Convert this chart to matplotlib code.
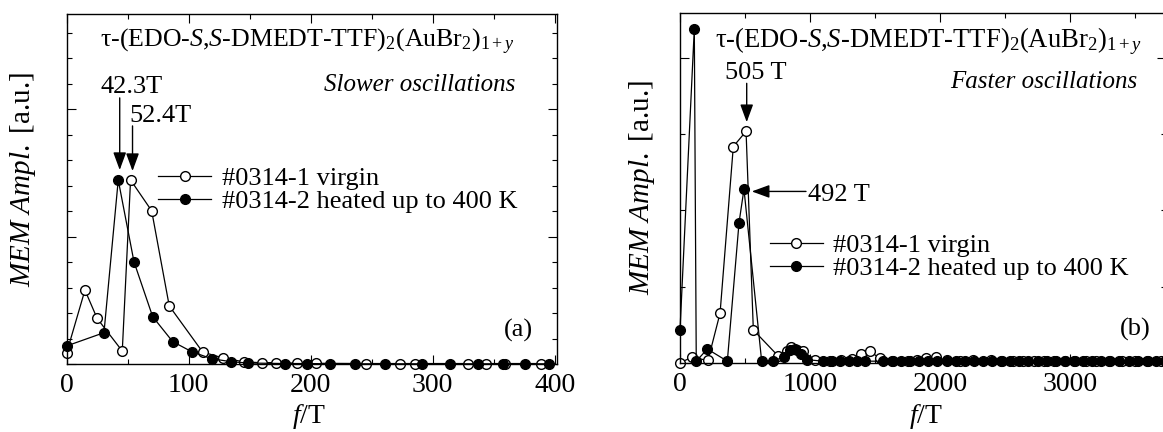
import numpy as np
import matplotlib.pyplot as plt
from matplotlib.ticker import MultipleLocator

plt.rcParams['font.family'] = ['Liberation Serif', 'DejaVu Serif']
plt.rcParams['mathtext.fontset'] = 'custom'
plt.rcParams['mathtext.rm'] = 'Liberation Serif'
plt.rcParams['mathtext.it'] = 'Liberation Serif:italic'
plt.rcParams['mathtext.bf'] = 'Liberation Serif:bold'

# (a) slower oscillations, f in T, amplitude in arbitrary units
f_open_a = [0, 15, 25, 45.6, 52.4, 69.7, 84.1, 111.5, 128, 145, 160, 172, 189, 204,
            245, 273, 285.5, 329, 344, 359, 389]
y_open_a = [0.45, 2.91, 1.80, 0.52, 7.23, 6.02, 2.29, 0.48, 0.25, 0.10, 0.06, 0.07, 0.04, 0.04,
            0.03, 0.03, 0.03, 0.03, 0.03, 0.03, 0.03]
f_fill_a = [0, 30.6, 42.3, 55.2, 70.5, 86.9, 102.7, 118.8, 135, 149, 179, 197, 216, 236,
            261, 291, 314, 337, 358, 376, 395]
y_fill_a = [0.72, 1.24, 7.23, 4.02, 1.87, 0.89, 0.49, 0.22, 0.10, 0.05, 0.03, 0.03, 0.02, 0.02,
            0.02, 0.02, 0.02, 0.02, 0.02, 0.02, 0.02]

# (b) faster oscillations
f_open_b = [0, 90, 215, 308, 410, 508, 564, 754, 820, 857, 900, 946, 1036, 1150, 1240, 1320,
            1395, 1459, 1536, 1640, 1750, 1820, 1895, 1972, 2050, 2150, 2250, 2395, 2480, 2560,
            2640, 2720, 2800, 2880, 2960, 3040, 3120, 3200, 3300, 3400, 3500, 3600, 3700]
y_open_b = [0.0, 0.07, 0.03, 0.65, 2.84, 3.04, 0.43, 0.09, 0.16, 0.20, 0.17, 0.15, 0.04, 0.02, 0.03, 0.05,
            0.12, 0.15, 0.06, 0.02, 0.02, 0.04, 0.06, 0.07, 0.03, 0.02, 0.03, 0.04, 0.02, 0.02,
            0.02, 0.02, 0.02, 0.02, 0.02, 0.02, 0.02, 0.02, 0.02, 0.02, 0.02, 0.02, 0.02]
f_fill_b = [0, 110, 125, 210, 364, 454, 492, 628, 718, 800, 845, 885, 930, 975, 1100, 1170,
            1230, 1300, 1360, 1420, 1560, 1630, 1700, 1770, 1840, 1910, 1980, 2050, 2120, 2190,
            2260, 2330, 2400, 2470, 2540, 2610, 2680, 2750, 2820, 2890, 2960, 3030, 3100, 3170,
            3240, 3310, 3380, 3450, 3520, 3590, 3660, 3730]
y_fill_b = [0.43, 4.39, 0.02, 0.18, 0.02, 1.84, 2.28, 0.02, 0.02, 0.08, 0.17, 0.18, 0.12, 0.04, 0.02, 0.02,
            0.02, 0.02, 0.02, 0.02, 0.02, 0.02, 0.02, 0.02, 0.02, 0.02, 0.02, 0.02, 0.02, 0.02,
            0.02, 0.02, 0.02, 0.02, 0.02, 0.02, 0.02, 0.02, 0.02, 0.02, 0.02, 0.02, 0.02, 0.02,
            0.02, 0.02, 0.02, 0.02, 0.02, 0.02, 0.02, 0.02]

lab_open = '#0314-1 virgin'
lab_fill = '#0314-2 heated up to 400 K'
title = r'τ-(EDO-$S$,$S$-DMEDT-TTF)$_2$(AuBr$_2$)$_{1+y}$'
ylab = r'$MEM\ Ampl.$ [a.u.]'
xlab = r'$f$/T'

fig = plt.figure(figsize=(11.63, 4.32), dpi=100)
ax1 = fig.add_axes([0.0573, 0.1567, 0.4213, 0.8109])
ax2 = fig.add_axes([0.5847, 0.1604, 0.4179, 0.8088])

kw = dict(color='k', lw=0.9, ms=7, mew=1.0, mec='k', clip_on=False)
ax1.plot(f_open_a, y_open_a, '-o', mfc='white', label=lab_open, **kw)
ax1.plot(f_fill_a, y_fill_a, '-o', mfc='k', label=lab_fill, **kw)
ax2.plot(f_open_b, y_open_b, '-o', mfc='white', label=lab_open, **kw)
ax2.plot(f_fill_b, y_fill_b, '-o', mfc='k', label=lab_fill, **kw)

ax1.set_xlim(0, 401.6)
ax1.set_ylim(0, 13.74)
ax1.xaxis.set_major_locator(MultipleLocator(100))
ax1.xaxis.set_minor_locator(MultipleLocator(50))
ax1.yaxis.set_major_locator(MultipleLocator(5))
ax1.yaxis.set_minor_locator(MultipleLocator(1))

ax2.set_xlim(0, 3738)
ax2.set_ylim(0, 4.59)
ax2.xaxis.set_major_locator(MultipleLocator(1000))
ax2.xaxis.set_minor_locator(MultipleLocator(500))
ax2.yaxis.set_major_locator(MultipleLocator(4))
ax2.yaxis.set_minor_locator(MultipleLocator(1))

for ax in (ax1, ax2):
    ax.tick_params(which='both', direction='in', top=True, right=True,
                   labelleft=False, labelsize=20, pad=6.5, width=0.8)
    ax.tick_params(which='major', length=6.5)
    ax.tick_params(which='minor', length=3.5)
    for s in ax.spines.values():
        s.set_linewidth(1.0)

ax1.set_xlabel(xlab, fontsize=20, va='center')
ax1.xaxis.set_label_coords(0.4945, -0.1476)
ax2.set_xlabel(xlab, fontsize=20, va='center')
ax2.xaxis.set_label_coords(0.505, -0.154)
ax1.set_ylabel(ylab, fontsize=21, va='center', ha='center')
ax1.yaxis.set_label_coords(-0.0892, 0.529)
ax2.set_ylabel(ylab, fontsize=21, va='center', ha='center')
ax2.yaxis.set_label_coords(-0.0782, 0.503)

ax1.text(0.068, 0.921, title, transform=ax1.transAxes, fontsize=18.6, ha='left', va='center')
ax2.text(0.072, 0.919, title, transform=ax2.transAxes, fontsize=19.2, ha='left', va='center')
ax1.text(0.915, 0.797, 'Slower oscillations', transform=ax1.transAxes, fontsize=18,
         style='italic', ha='right', va='center')
ax2.text(0.942, 0.804, 'Faster oscillations', transform=ax2.transAxes, fontsize=18,
         style='italic', ha='right', va='center')
ax1.text(0.951, 0.098, '(a)', transform=ax1.transAxes, fontsize=19, ha='right', va='center')
ax2.text(0.969, 0.096, '(b)', transform=ax2.transAxes, fontsize=19, ha='right', va='center')

arr = dict(arrowstyle='-|>,head_length=0.6,head_width=0.22', color='k', lw=1.0,
           shrinkA=0, shrinkB=0, mutation_scale=18)
ax1.annotate('', xy=(43.5, 7.62), xytext=(43.5, 10.45), arrowprops=arr)
ax1.text(53.5, 10.89, '42.3T', fontsize=19, ha='center', va='center')
ax1.annotate('', xy=(54, 7.58), xytext=(54, 9.35), arrowprops=arr)
ax1.text(76.9, 9.74, '52.4T', fontsize=19, ha='center', va='center')

ax2.annotate('', xy=(513, 3.16), xytext=(513, 3.67), arrowprops=arr)
ax2.text(583, 3.81, '505 T', fontsize=19, ha='center', va='center')
ax2.annotate('', xy=(552, 2.25), xytext=(969, 2.25), arrowprops=arr)
ax2.text(985, 2.2, '492 T', fontsize=19, ha='left', va='center')

leg_kw = dict(loc='upper left', frameon=False, fontsize=19, borderpad=0, borderaxespad=0,
              handlelength=2.0, handletextpad=0.4, labelspacing=0.0)
ax1.legend(bbox_to_anchor=(0.187, 0.565), **leg_kw)
ax2.legend(bbox_to_anchor=(0.185, 0.370), **leg_kw)

fig.savefig('out.png', dpi=100)
